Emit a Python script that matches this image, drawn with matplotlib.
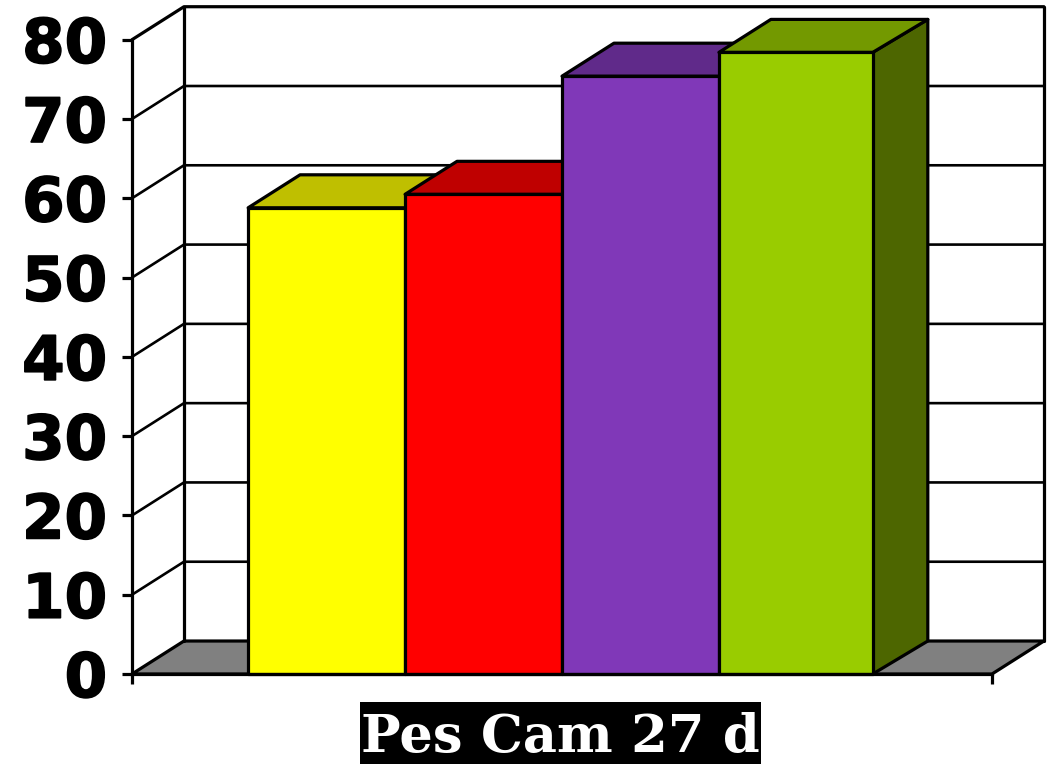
import matplotlib
matplotlib.use("Agg")
import matplotlib.pyplot as plt
import matplotlib.patheffects as pe
from matplotlib.patches import Polygon, Rectangle

# values
values = [58.8, 60.5, 75.4, 78.4]
front_colors = ["#FFFF00", "#FF0000", "#8038B8", "#99CC00"]
top_colors = ["#BFBF00", "#BF0000", "#602A8A", "#739900"]
side_colors = ["#BFBF00", "#BF0000", "#4D1F70", "#4D6600"]
y_ticks = [0, 10, 20, 30, 40, 50, 60, 70, 80]
category = "Pes Cam 27 d"

# 3D look: how far the back wall is shifted, in data units
DEPTH_X = 0.331
DEPTH_Y = 4.16
BAR_W = 1.0
LAST_FRONT_W = 0.98  # front face of the last bar is a little narrower in the original
X_MIN = -0.74
X_MAX = 4.74
LW = 2.3


def poly(ax, pts, fc, z=1):
    ax.add_patch(Polygon(pts, closed=True, facecolor=fc, edgecolor="black",
                         linewidth=LW, joinstyle="round", clip_on=False, zorder=z))


def line(ax, xs, ys, z=1, lw=LW):
    ax.plot(xs, ys, color="black", linewidth=lw, clip_on=False, zorder=z,
            solid_capstyle="round")


fig = plt.figure(figsize=(10.47, 7.64), dpi=100, facecolor="white")
ax = fig.add_axes([132 / 1047, 90 / 764, 860 / 1047, 634.3 / 764])
ax.set_xlim(X_MIN, X_MAX)
ax.set_ylim(0, 80)
ax.patch.set_alpha(0)

# floor
poly(ax, [(X_MIN, 0), (X_MAX, 0), (X_MAX + DEPTH_X, DEPTH_Y), (X_MIN + DEPTH_X, DEPTH_Y)], "#808080")

# back wall and its top / side edges
line(ax, [X_MIN + DEPTH_X, X_MIN + DEPTH_X], [DEPTH_Y, 80 + DEPTH_Y])
line(ax, [X_MAX + DEPTH_X, X_MAX + DEPTH_X], [DEPTH_Y, 80 + DEPTH_Y])

# gridlines run across the back wall and down the left wall
for t in y_ticks[1:]:
    line(ax, [X_MIN, X_MIN + DEPTH_X, X_MAX + DEPTH_X],
         [t, t + DEPTH_Y, t + DEPTH_Y], lw=1.9 if t < 80 else LW)

# bars, left to right so each one covers the last
for i, v in enumerate(values):
    x0 = i
    x1 = i + BAR_W
    xf = i + (LAST_FRONT_W if i == len(values) - 1 else BAR_W)
    poly(ax, [(xf, 0), (x1 + DEPTH_X, DEPTH_Y), (x1 + DEPTH_X, v + DEPTH_Y), (xf, v)], side_colors[i], z=2 + i)
    poly(ax, [(x0, v), (xf, v), (x1 + DEPTH_X, v + DEPTH_Y), (x0 + DEPTH_X, v + DEPTH_Y)], top_colors[i], z=2 + i)
    poly(ax, [(x0, 0), (xf, 0), (xf, v), (x0, v)], front_colors[i], z=2 + i)

# front axes
for name in ["top", "right"]:
    ax.spines[name].set_visible(False)
for name in ["left", "bottom"]:
    ax.spines[name].set_linewidth(LW)
    ax.spines[name].set_zorder(10)

ax.set_yticks(y_ticks)
labels = ax.set_yticklabels([str(t) for t in y_ticks], fontsize=44, fontweight="bold",
                            family="DejaVu Sans")
for lab in labels:
    lab.set_verticalalignment("center_baseline")
    # original digits are heavier than plain bold
    lab.set_path_effects([pe.withStroke(linewidth=1.2, foreground="black")])
ax.tick_params(axis="y", length=7, width=LW, pad=11)
ax.set_xticks([X_MIN, X_MAX])
ax.set_xticklabels(["", ""])
ax.tick_params(axis="x", length=7, width=LW)

# category label, white on a black box
ax.add_patch(Rectangle((0.713, -11.35), 2.556, 7.82, facecolor="black", edgecolor="none", clip_on=False))
ax.text(1.991, -9.84, category, ha="center", va="baseline",
        fontsize=38, fontweight="bold", family="DejaVu Serif", color="white", clip_on=False)

fig.savefig("out.png", dpi=100, facecolor="white")
